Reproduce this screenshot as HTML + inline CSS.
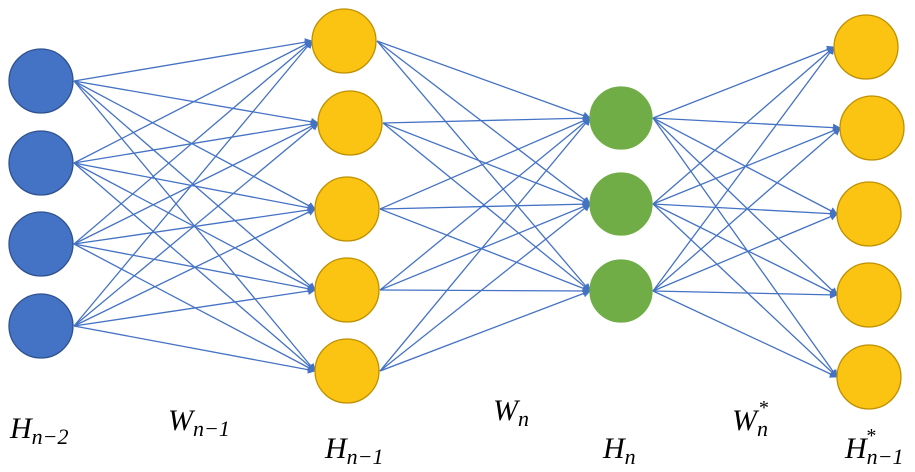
<!DOCTYPE html>
<html><head><style>body{margin:0;background:#fff}svg{display:block}
text{font-family:"Liberation Serif",serif;font-style:italic;fill:#000}</style></head><body>
<svg width="915" height="472" viewBox="0 0 915 472" xmlns="http://www.w3.org/2000/svg">
<defs><marker id="a" markerWidth="8" markerHeight="8" refX="7" refY="4" orient="auto" markerUnits="userSpaceOnUse"><path d="M0,0L8,4L0,8z" fill="#4472C4"/></marker></defs>
<g id="e" stroke="#4472C4" stroke-width="1.3" marker-end="url(#a)"></g>
<g id="n"></g>
<text x="10" y="438" font-size="30">H<tspan font-size="22" dy="6">n−2</tspan></text>
<text x="168" y="430" font-size="30">W<tspan font-size="22" dy="6">n−1</tspan></text>
<text x="325" y="458" font-size="30">H<tspan font-size="22" dy="6">n−1</tspan></text>
<text x="493" y="420" font-size="30">W<tspan font-size="22" dy="6">n</tspan></text>
<text x="603" y="458" font-size="30">H<tspan font-size="22" dy="6">n</tspan></text>
<text x="732" y="430" font-size="30">W<tspan font-size="22" dy="6">n</tspan><tspan font-size="20" dx="-10" dy="-22">*</tspan></text>
<text x="845" y="458" font-size="30">H<tspan font-size="22" dy="6">n−1</tspan><tspan font-size="20" dx="-38" dy="-22">*</tspan></text>
<script>
var L=[[[41,81],[41,163],[41,244],[41,326]],[[344,41],[350,123],[347,209],[347,290],[347,371]],[[621,118],[621,204],[621,291]],[[866,47],[872,128],[869,214],[869,295],[869,377]]];
var R=[32,32,31,32],F=["#4472C4","#FBC312","#70AD47","#FBC312"],S=["#2F528F","#BF9000","#70AD47","#BF9000"];
var ns="http://www.w3.org/2000/svg",e=document.getElementById("e"),n=document.getElementById("n");
for(var k=0;k<3;k++)L[k].forEach(function(p){L[k+1].forEach(function(q){var l=document.createElementNS(ns,"line");l.setAttribute("x1",p[0]+R[k]+1);l.setAttribute("y1",p[1]);l.setAttribute("x2",q[0]-R[k+1]);l.setAttribute("y2",q[1]);e.appendChild(l);});});
L.forEach(function(c,k){c.forEach(function(p){var s=document.createElementNS(ns,"circle");s.setAttribute("cx",p[0]);s.setAttribute("cy",p[1]);s.setAttribute("r",R[k]);s.setAttribute("fill",F[k]);s.setAttribute("stroke",S[k]);s.setAttribute("stroke-width","1.3");n.appendChild(s);});});
</script>
</svg></body></html>
